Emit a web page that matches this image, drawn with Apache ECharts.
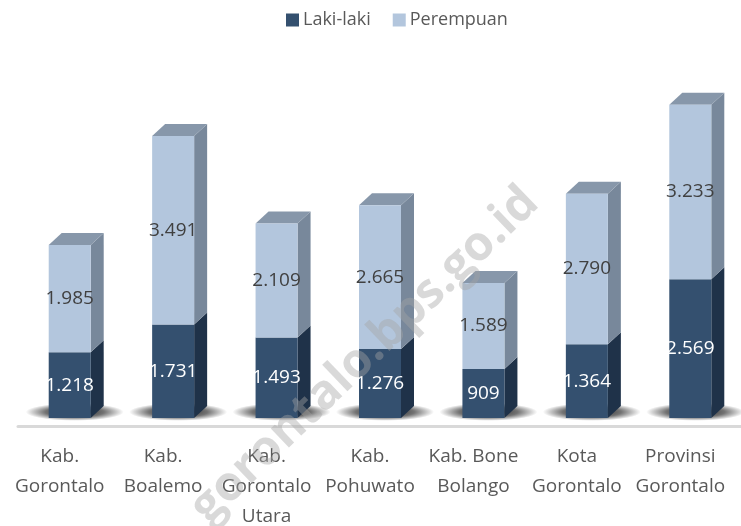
<!DOCTYPE html>
<html>
<head>
<meta charset="utf-8">
<script src="https://cdn.jsdelivr.net/npm/echarts@6/dist/echarts.min.js"></script>
<style>
  html, body { margin: 0; padding: 0; background: #fff; }
  #chart { width: 741px; height: 526px; }
</style>
</head>
<body>
<div id="chart"></div>
<script>
const categories = ['Kab.\nGorontalo', 'Kab.\nBoalemo', 'Kab.\nGorontalo\nUtara', 'Kab.\nPohuwato', 'Kab. Bone\nBolango', 'Kota\nGorontalo', 'Provinsi\nGorontalo'];
const lakiLaki = [1218, 1731, 1493, 1276, 909, 1364, 2569];
const perempuan = [1985, 3491, 2109, 2665, 1589, 2790, 3233];

const FONT = "'Open Sans', sans-serif";
const BAR_W = 42, DX = 13, DY = 12;

// dots as thousands separator, like the source
const fmt = v => String(v).replace(/\B(?=(\d{3})+(?!\d))/g, '.');

function makeRender(front, side, top, labelColor, isTop) {
  return function (params, api) {
    const i = api.value(0);
    const p1 = api.coord([i, api.value(2)]);
    const p0 = api.coord([i, api.value(1)]);
    const l = p1[0] - BAR_W / 2, r = l + BAR_W;
    const yt = p1[1], yb = p0[1];
    const children = [];
    if (!isTop) {
      // soft floor shadow
      children.push({
        type: 'circle',
        shape: { cx: 0, cy: 0, r: 49 },
        x: p0[0] + 5, y: yb - 6, scaleY: 0.18,
        style: {
          fill: new echarts.graphic.RadialGradient(0.5, 0.5, 0.5, [
            { offset: 0, color: 'rgba(0,0,0,0.9)' },
            { offset: 0.6, color: 'rgba(0,0,0,0.55)' },
            { offset: 1, color: 'rgba(0,0,0,0)' }
          ])
        }
      });
    }
    children.push({
      type: 'polygon',
      shape: { points: [[r, yt], [r + DX, yt - DY], [r + DX, yb - DY], [r, yb]] },
      style: { fill: side }
    });
    if (isTop) {
      children.push({
        type: 'polygon',
        shape: { points: [[l, yt], [l + DX, yt - DY], [r + DX, yt - DY], [r, yt]] },
        style: { fill: top }
      });
    }
    children.push({
      type: 'rect',
      shape: { x: l, y: yt, width: BAR_W, height: yb - yt },
      style: { fill: front }
    });
    children.push({
      type: 'text',
      x: p1[0], y: (yt + yb) / 2,
      style: {
        text: fmt(api.value(3)),
        fill: labelColor,
        font: "19px " + FONT,
        align: 'center', verticalAlign: 'middle'
      }
    });
    return { type: 'group', children };
  };
}

const lakiData = lakiLaki.map((v, i) => [i, 0, v, v]);
const perData = perempuan.map((v, i) => [i, lakiLaki[i], lakiLaki[i] + v, v]);

const chart = echarts.init(document.getElementById('chart'));
chart.setOption({
  animation: false,
  backgroundColor: '#fff',
  legend: {
    top: 6,
    left: 281,
    icon: 'rect',
    itemWidth: 13,
    itemHeight: 13,
    itemGap: 22,
    textStyle: { color: '#595959', fontSize: 18, fontFamily: FONT, padding: [0, 0, 0, -1] },
    data: ['Laki-laki', 'Perempuan']
  },
  grid: { left: 18, right: -1, top: 94, bottom: 108, containLabel: false, outerBoundsMode: 'none' },
  xAxis: {
    type: 'category',
    data: categories,
    offset: 8,
    axisLine: { onZero: false, lineStyle: { color: '#d9d9d9', width: 3 } },
    axisTick: { show: false },
    axisLabel: {
      color: '#595959',
      fontSize: 19,
      fontFamily: FONT,
      lineHeight: 30,
      margin: 16,
      padding: [0, 20, 0, 0],
      interval: 0
    }
  },
  yAxis: { type: 'value', min: 0, max: 6000, show: false },
  graphic: [{
    type: 'text',
    left: 182, top: 178,
    rotation: Math.PI / 4.1,
    z: 100,
    style: {
      text: 'gorontalo.bps.go.id',
      font: "bold 48px 'Open Sans', sans-serif",
      fill: 'rgba(165,165,165,0.42)'
    }
  }],
  series: [
    {
      name: 'Laki-laki',
      type: 'custom',
      itemStyle: { color: '#34506f' },
      encode: { x: 0, y: 2 },
      renderItem: makeRender('#34506f', '#1f3249', null, '#ffffff', false),
      data: lakiData
    },
    {
      name: 'Perempuan',
      type: 'custom',
      itemStyle: { color: '#b3c6dd' },
      encode: { x: 0, y: 2 },
      renderItem: makeRender('#b3c6dd', '#78889b', '#8797aa', '#404040', true),
      data: perData
    }
  ]
});
</script>
</body>
</html>
